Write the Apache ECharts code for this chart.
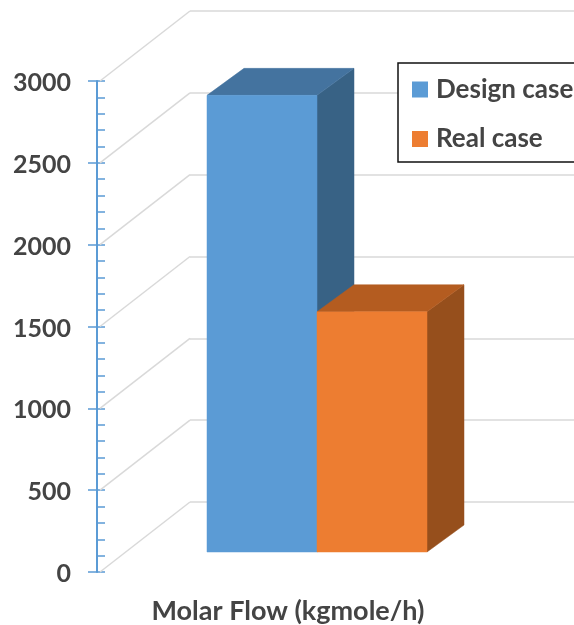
<!DOCTYPE html>
<html>
<head>
<meta charset="utf-8">
<style>html,body{margin:0;padding:0;background:#fff;overflow:hidden}#c{width:574px;height:625px}</style>
<script src="https://cdn.jsdelivr.net/npm/echarts@6/dist/echarts.min.js"></script>
</head>
<body>
<div id="c"></div>
<script>
// Molar flow: design case against real case, drawn as a pseudo-3D column chart.
const categories = ['Molar Flow (kgmole/h)'];
const designCase = [2790];
const realCase = [1468];
const yTicks = [0, 500, 1000, 1500, 2000, 2500, 3000];

const FONT = 'Lato, "Open Sans", sans-serif';
const TEXT = '#444444';
const GRID = '#d9d9d9';
const AXIS = '#5b9bd5';
const WALL = [90, -70];      // shift from the axis plane to the back wall
const FRONT = [29, -20];     // shift from the axis plane to the column fronts
const DEPTH = [37, -27];     // column depth
const BAR_W = 110;

function poly(points, fill) {
  return { type: 'polygon', shape: { points }, style: { fill, stroke: fill, lineWidth: 0.5 } };
}

// One extruded column: side index -1 sits left of the category centre, 0 sits right of it.
function columnRenderer(side, front, top, right) {
  return function (params, api) {
    const base = api.coord([api.value(0), 0]);
    const head = api.coord([api.value(0), api.value(1)]);
    const x0 = base[0] + FRONT[0] + side * BAR_W;
    const x1 = x0 + BAR_W;
    const y0 = base[1] + FRONT[1];
    const y1 = head[1] + FRONT[1];
    const dx = DEPTH[0], dy = DEPTH[1];
    return {
      type: 'group',
      children: [
        poly([[x1, y0], [x1 + dx, y0 + dy], [x1 + dx, y1 + dy], [x1, y1]], right),
        poly([[x0, y1], [x0 + dx, y1 + dy], [x1 + dx, y1 + dy], [x1, y1]], top),
        poly([[x0, y0], [x1, y0], [x1, y1], [x0, y1]], front)
      ]
    };
  };
}

const chart = echarts.init(document.getElementById('c'), null, { renderer: 'canvas' });
chart.setOption({
  animation: false,
  backgroundColor: '#fff',
  legend: {
    orient: 'vertical',
    left: 398,
    top: 63,
    padding: [13.5, 12, 10, 14],
    itemWidth: 16,
    itemHeight: 16,
    itemGap: 23.5,
    icon: 'rect',
    backgroundColor: '#fff',
    borderColor: '#111',
    borderWidth: 1.5,
    borderRadius: 0,
    textStyle: { fontFamily: FONT, fontSize: 26, fontWeight: 'bold', color: TEXT, padding: [0, 0, 0, 3] },
    data: ['Design case', 'Real case'],
    z: 10
  },
  grid: [
    { left: 97, right: 95, top: 81, bottom: 53 },
    { left: 190, right: 0, top: 11, bottom: 123 }
  ],
  xAxis: [
    {
      type: 'category', gridIndex: 0, data: categories,
      axisLine: { show: false }, axisTick: { show: false },
      axisLabel: { margin: 26, fontFamily: FONT, fontSize: 27, fontWeight: 'bold', color: TEXT }
    },
    { type: 'category', gridIndex: 1, data: categories, show: false }
  ],
  yAxis: [
    {
      type: 'value', gridIndex: 0, min: 0, max: 3000, interval: 500,
      axisLine: { show: true, lineStyle: { color: AXIS, width: 2 } },
      axisTick: { show: true, length: 9, lineStyle: { color: AXIS, width: 1.5 } },
      axisLabel: {
        margin: 26,
        formatter: v => '{t|' + v + '}',
        rich: { t: { padding: [4, 0, 0, 0], fontFamily: FONT, fontSize: 25, fontWeight: 'bold', color: TEXT } }
      },
      splitLine: { show: false }
    },
    {
      type: 'value', gridIndex: 0, min: 0, max: 3000, interval: 500, position: 'left',
      axisLine: { show: false },
      axisTick: { show: true, inside: true, length: 8, lineStyle: { color: AXIS, width: 1.5 } },
      minorTick: { show: true, splitNumber: 5, length: 8, lineStyle: { color: AXIS, width: 1.5 } },
      axisLabel: { show: false },
      splitLine: { show: false }
    },
    {
      type: 'value', gridIndex: 1, min: 0, max: 3000, interval: 500,
      axisLine: { show: false }, axisTick: { show: false }, axisLabel: { show: false },
      splitLine: { show: true, lineStyle: { color: GRID, width: 1.5 } }
    }
  ],
  series: [
    {
      // Side-wall gridlines running from each tick back to the rear wall.
      type: 'custom', silent: true, xAxisIndex: 0, yAxisIndex: 0, z: 1, clip: false,
      data: yTicks.map(v => [0, v]),
      renderItem(params, api) {
        const y = api.coord([0, api.value(1)])[1];
        const x = params.coordSys.x + 3;
        return {
          type: 'line',
          shape: { x1: x, y1: y, x2: x + WALL[0], y2: y + WALL[1] },
          style: { stroke: GRID, lineWidth: 1.5, fill: null }
        };
      }
    },
    {
      name: 'Design case', type: 'custom', xAxisIndex: 0, yAxisIndex: 0, z: 3, clip: false,
      itemStyle: { color: '#5b9bd5' },
      data: designCase.map((v, i) => [i, v]),
      renderItem: columnRenderer(-1, '#5b9bd5', '#44739f', '#386285')
    },
    {
      name: 'Real case', type: 'custom', xAxisIndex: 0, yAxisIndex: 0, z: 4, clip: false,
      itemStyle: { color: '#ed7d31' },
      data: realCase.map((v, i) => [i, v]),
      renderItem: columnRenderer(0, '#ed7d31', '#b45c20', '#964f1c')
    }
  ]
});
</script>
</body>
</html>
